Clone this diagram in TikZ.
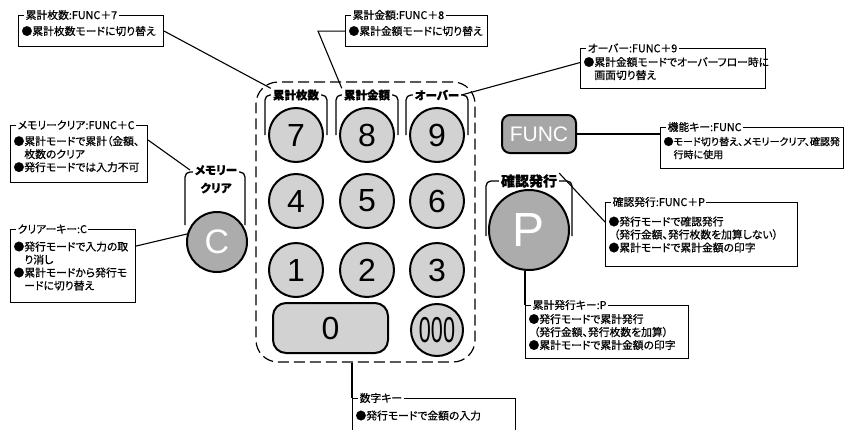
\documentclass[tikz,border=0pt]{standalone}
\usepackage{fontspec}
\setmainfont{Noto Sans CJK JP}[RawFeature=+palt, FakeBold=0.6]
\newfontfamily\keyfont{Liberation Sans}
\usetikzlibrary{positioning}

\begin{document}
\begin{tikzpicture}[x=1pt, y=-1pt,
  infobox/.style={draw, line width=1.1pt, anchor=north west, align=left, inner xsep=3pt, inner ysep=2pt, text width=#1, font=\fontsize{10.8}{13}\selectfont},
  boxtitle/.style={fill=white, anchor=west, inner xsep=1.5pt, inner ysep=0pt, font=\fontsize{10.8}{13}\selectfont},
  numkey/.style={circle, draw, line width=2pt, fill=gray!35, minimum size=54pt, inner sep=0pt, font=\keyfont\fontsize{32}{32}\selectfont},
  darkkey/.style={circle, draw, line width=2pt, fill=gray!65, text=white, inner sep=0pt},
  keylabel/.style={fill=white, inner xsep=2pt, inner ysep=1pt, font=\bfseries\fontsize{11.5}{13}\selectfont},
  bracket/.style={line width=1.3pt, rounded corners=5pt},
  conn/.style={line width=1.1pt}
]

\useasboundingbox (0,0) rectangle (844,429);

% dashed area round the number keys
\node (numarea) [draw, dash pattern=on 11pt off 5pt, line width=1.2pt, rounded corners=22pt, minimum width=219pt, minimum height=280pt] at (365.5,222) {};

% brackets over the keys
\draw [bracket] (265,135) |- (296,95) -| (327,135);
\draw [bracket] (336,135) |- (367,95) -| (398,135);
\draw [bracket] (406,135) |- (437,95) -| (468,135);
\draw [bracket] (486,236) |- (529,181) -| (572,236);
\draw [bracket] (185,225) |- (215,172) -| (245,225);
\coordinate (cbr) at (190,170);

% number keys
\node (k7) [numkey] at (296,135) {7};
\node (k8) [numkey] at (367,135) {8};
\node (k9) [numkey] at (437,135) {9};
\node (k4) [numkey] at (296,201) {4};
\node (k5) [numkey] at (367,201) {5};
\node (k6) [numkey] at (437,201) {6};
\node (k1) [numkey] at (296,270) {1};
\node (k2) [numkey] at (367,270) {2};
\node (k3) [numkey] at (437,270) {3};
\node (k0) [draw, line width=2pt, fill=gray!35, rounded corners=13pt, minimum width=115pt, minimum height=50pt, font=\keyfont\fontsize{32}{32}\selectfont] at (330.5,328) {0};
\node (k000) [numkey, minimum size=52pt] at (437,330) {\scalebox{0.6}[1]{\fontsize{36}{36}\selectfont 000}};

% function keys
\node (kfunc) [draw, line width=2pt, fill=gray!70, text=white, rounded corners=8pt, minimum width=74pt, minimum height=38pt, font=\keyfont\fontsize{21}{21}\selectfont] at (539,134) {FUNC};
\node (kp) [darkkey, minimum size=80pt, font=\keyfont\fontsize{48}{48}\selectfont] at (529,230) {P};
\node (kc) [darkkey, minimum size=60pt, font=\keyfont\fontsize{34}{34}\selectfont] at (217,242) {C};

% key labels
\node (lb7) [keylabel] at (296,95) {累計枚数};
\node (lb8) [keylabel] at (367,95) {累計金額};
\node (lb9) [keylabel] at (437,95) {オーバー};
\node (lbp) [keylabel, font=\bfseries\fontsize{14}{16}\selectfont] at (529,181) {確認発行};
\node (lbc) [keylabel, align=center, anchor=north, font=\bfseries\fontsize{11.5}{18}\selectfont] at (216,164) {メモリー\\クリア};

% explanation boxes
\node (fn7box) [infobox=139pt, minimum height=31pt] at (18,15) {●累計枚数モードに切り替え};
\node [boxtitle] at ([xshift=6pt]fn7box.north west) {累計枚数:FUNC＋7};

\node (fn8box) [infobox=136pt, minimum height=31pt] at (345,15) {●累計金額モードに切り替え};
\node [boxtitle] at ([xshift=6pt]fn8box.north west) {累計金額:FUNC＋8};

\node (fn9box) [infobox=179pt, minimum height=40pt] at (580,48) {●累計金額モードでオーバーフロー時に\\\hspace*{1em}画面切り替え};
\node [boxtitle] at ([xshift=6pt]fn9box.north west) {オーバー:FUNC＋9};

\node (funcbox) [infobox=177pt, minimum height=41pt, font=\fontsize{10}{13}\selectfont] at (660,127) {●モード切り替え、メモリークリア、確認発\\\hspace*{1em}行時に使用};
\node [boxtitle] at ([xshift=6pt]funcbox.north west) {機能キー:FUNC};

\node (fnpbox) [infobox=186pt, minimum height=64pt] at (605,202) {●発行モードで確認発行\\\hspace*{0.5em}（発行金額、発行枚数を加算しない）\\●累計モードで累計金額の印字};
\node [boxtitle] at ([xshift=6pt]fnpbox.north west) {確認発行:FUNC＋P};

\node (pbox) [infobox=157pt, minimum height=53pt] at (525,305) {●発行モードで累計発行\\\hspace*{0.5em}（発行金額、発行枚数を加算）\\●累計モードで累計金額の印字};
\node [boxtitle] at ([xshift=6pt]pbox.north west) {累計発行キー:P};

\node (fncbox) [infobox=131pt, minimum height=57pt] at (10,125) {●累計モードで累計（金額、\\\hspace*{1em}枚数のクリア\\●発行モードでは入力不可};
\node [boxtitle] at ([xshift=6pt]fncbox.north west) {メモリークリア:FUNC＋C};

\node (cbox) [infobox=119pt, minimum height=73pt] at (10,229) {●発行モードで入力の取\\\hspace*{1em}り消し\\●累計モードから発行モ\\\hspace*{1em}ードに切り替え};
\node [boxtitle] at ([xshift=6pt]cbox.north west) {クリアーキー:C};

\node (numbox) [infobox=157pt, minimum height=34pt] at (352,398) {●発行モードで金額の入力};
\node [boxtitle] at ([xshift=6pt]numbox.north west) {数字キー};

% connectors
\draw [conn] (fn7box.east) -- (lb7.north west);
\draw [conn] (fn8box.west) -- ++(-27,0) -- (lb8.north west);
\draw [conn] ([yshift=6pt]fn9box.west) -- (lb9.east);
\draw [conn] (kfunc.east) -- (kfunc.east -| funcbox.west);
\draw [conn] (lbp.north east) -- ([yshift=-20pt]fnpbox.north west);
\draw [conn] (pbox.north west) -- (pbox.north west |- kp.south);
\draw [conn] ([yshift=14pt]fncbox.east) -- (cbr);
\draw [conn] ([yshift=20pt]cbox.east) -- (kc.165);
\draw [conn] (numarea.south -| numbox.west) -- (numbox.north west);

\end{tikzpicture}
\end{document}
